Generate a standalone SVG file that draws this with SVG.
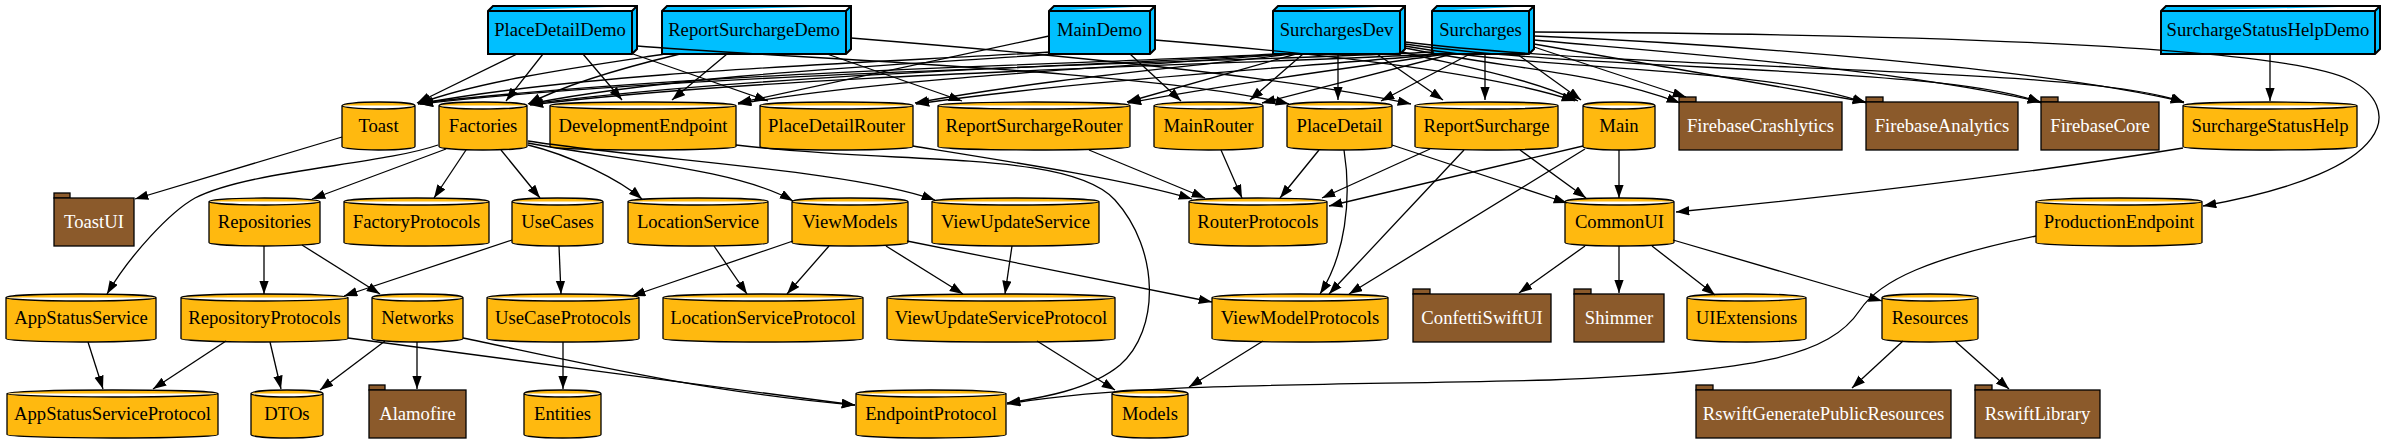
<svg xmlns="http://www.w3.org/2000/svg" width="2388" height="443" viewBox="0 0 2388 443">
<defs>
<style>
.c{fill:#FFB90F;stroke:#000;stroke-width:1.3}
.b{fill:#00BFFF;stroke:#000;stroke-width:2}
.f{fill:#8B5A2B;stroke:#000;stroke-width:1.3}
text{font-family:"Liberation Serif","Times New Roman",serif;font-size:18.67px;text-anchor:middle;fill:#000}
text.w{fill:#fff}
#edges path{fill:none;stroke:#000;stroke-width:1.3;marker-end:url(#ah)}
</style>
<marker id="ah" markerUnits="userSpaceOnUse" markerWidth="14" markerHeight="10" refX="13.3" refY="4.7" orient="auto"><path d="M0,0L13.3,4.7L0,9.4Z" fill="#000"/></marker>
</defs>
<rect width="2388" height="443" fill="#fff"/>
<g id="nodes">
<g id="PlaceDetailDemo"><path class="b" d="M488,11L493,6L637,6L637,49L632,54L488,54ZM488,11L632,11L637,6M632,11L632,54"/><text x="560" y="36">PlaceDetailDemo</text></g>
<g id="ReportSurchargeDemo"><path class="b" d="M662,11L667,6L851,6L851,49L846,54L662,54ZM662,11L846,11L851,6M846,11L846,54"/><text x="754" y="36">ReportSurchargeDemo</text></g>
<g id="MainDemo"><path class="b" d="M1049,11L1054,6L1155,6L1155,49L1150,54L1049,54ZM1049,11L1150,11L1155,6M1150,11L1150,54"/><text x="1099.5" y="36">MainDemo</text></g>
<g id="SurchargesDev"><path class="b" d="M1273,11L1278,6L1405,6L1405,49L1400,54L1273,54ZM1273,11L1400,11L1405,6M1400,11L1400,54"/><text x="1336.5" y="36">SurchargesDev</text></g>
<g id="Surcharges"><path class="b" d="M1432,11L1437,6L1534,6L1534,49L1529,54L1432,54ZM1432,11L1529,11L1534,6M1529,11L1529,54"/><text x="1480.5" y="36">Surcharges</text></g>
<g id="SurchargeStatusHelpDemo"><path class="b" d="M2161,11L2166,6L2380,6L2380,49L2375,54L2161,54ZM2161,11L2375,11L2380,6M2375,11L2375,54"/><text x="2268" y="36">SurchargeStatusHelpDemo</text></g>

<g id="Toast"><path class="c" d="M342,105.5A36.5,3.5 0 0 1 415,105.5V146.5A36.5,3.5 0 0 1 342,146.5ZM342,105.5A36.5,3.5 0 0 0 415,105.5"/><text x="378.5" y="132">Toast</text></g>
<g id="Factories"><path class="c" d="M439,105.5A44,3.5 0 0 1 527,105.5V146.5A44,3.5 0 0 1 439,146.5ZM439,105.5A44,3.5 0 0 0 527,105.5"/><text x="483" y="132">Factories</text></g>
<g id="DevelopmentEndpoint"><path class="c" d="M550,105.5A93,3.5 0 0 1 736,105.5V146.5A93,3.5 0 0 1 550,146.5ZM550,105.5A93,3.5 0 0 0 736,105.5"/><text x="643" y="132">DevelopmentEndpoint</text></g>
<g id="PlaceDetailRouter"><path class="c" d="M760,105.5A76.5,3.5 0 0 1 913,105.5V146.5A76.5,3.5 0 0 1 760,146.5ZM760,105.5A76.5,3.5 0 0 0 913,105.5"/><text x="836.5" y="132">PlaceDetailRouter</text></g>
<g id="ReportSurchargeRouter"><path class="c" d="M938,105.5A96,3.5 0 0 1 1130,105.5V146.5A96,3.5 0 0 1 938,146.5ZM938,105.5A96,3.5 0 0 0 1130,105.5"/><text x="1034" y="132">ReportSurchargeRouter</text></g>
<g id="MainRouter"><path class="c" d="M1154,105.5A54.5,3.5 0 0 1 1263,105.5V146.5A54.5,3.5 0 0 1 1154,146.5ZM1154,105.5A54.5,3.5 0 0 0 1263,105.5"/><text x="1208.5" y="132">MainRouter</text></g>
<g id="PlaceDetail"><path class="c" d="M1287,105.5A52.5,3.5 0 0 1 1392,105.5V146.5A52.5,3.5 0 0 1 1287,146.5ZM1287,105.5A52.5,3.5 0 0 0 1392,105.5"/><text x="1339.5" y="132">PlaceDetail</text></g>
<g id="ReportSurcharge"><path class="c" d="M1415,105.5A71.5,3.5 0 0 1 1558,105.5V146.5A71.5,3.5 0 0 1 1415,146.5ZM1415,105.5A71.5,3.5 0 0 0 1558,105.5"/><text x="1486.5" y="132">ReportSurcharge</text></g>
<g id="Main"><path class="c" d="M1583,105.5A36,3.5 0 0 1 1655,105.5V146.5A36,3.5 0 0 1 1583,146.5ZM1583,105.5A36,3.5 0 0 0 1655,105.5"/><text x="1619" y="132">Main</text></g>
<g id="FirebaseCrashlytics"><rect class="f" x="1679" y="97" width="17" height="5"/><rect class="f" x="1679" y="102" width="163" height="48"/><text class="w" x="1760.5" y="132">FirebaseCrashlytics</text></g>
<g id="FirebaseAnalytics"><rect class="f" x="1866" y="97" width="17" height="5"/><rect class="f" x="1866" y="102" width="152" height="48"/><text class="w" x="1942" y="132">FirebaseAnalytics</text></g>
<g id="FirebaseCore"><rect class="f" x="2041" y="97" width="17" height="5"/><rect class="f" x="2041" y="102" width="118" height="48"/><text class="w" x="2100" y="132">FirebaseCore</text></g>
<g id="SurchargeStatusHelp"><path class="c" d="M2183,105.5A87,3.5 0 0 1 2357,105.5V146.5A87,3.5 0 0 1 2183,146.5ZM2183,105.5A87,3.5 0 0 0 2357,105.5"/><text x="2270" y="132">SurchargeStatusHelp</text></g>

<g id="ToastUI"><rect class="f" x="54" y="193" width="16" height="5"/><rect class="f" x="54" y="198" width="80" height="48"/><text class="w" x="94" y="228">ToastUI</text></g>
<g id="Repositories"><path class="c" d="M209,201.5A55.5,3.5 0 0 1 320,201.5V242.5A55.5,3.5 0 0 1 209,242.5ZM209,201.5A55.5,3.5 0 0 0 320,201.5"/><text x="264.5" y="228">Repositories</text></g>
<g id="FactoryProtocols"><path class="c" d="M344,201.5A72.5,3.5 0 0 1 489,201.5V242.5A72.5,3.5 0 0 1 344,242.5ZM344,201.5A72.5,3.5 0 0 0 489,201.5"/><text x="416.5" y="228">FactoryProtocols</text></g>
<g id="UseCases"><path class="c" d="M512,201.5A45.5,3.5 0 0 1 603,201.5V242.5A45.5,3.5 0 0 1 512,242.5ZM512,201.5A45.5,3.5 0 0 0 603,201.5"/><text x="557.5" y="228">UseCases</text></g>
<g id="LocationService"><path class="c" d="M628,201.5A70,3.5 0 0 1 768,201.5V242.5A70,3.5 0 0 1 628,242.5ZM628,201.5A70,3.5 0 0 0 768,201.5"/><text x="698" y="228">LocationService</text></g>
<g id="ViewModels"><path class="c" d="M792,201.5A58,3.5 0 0 1 908,201.5V242.5A58,3.5 0 0 1 792,242.5ZM792,201.5A58,3.5 0 0 0 908,201.5"/><text x="850" y="228">ViewModels</text></g>
<g id="ViewUpdateService"><path class="c" d="M932,201.5A83.5,3.5 0 0 1 1099,201.5V242.5A83.5,3.5 0 0 1 932,242.5ZM932,201.5A83.5,3.5 0 0 0 1099,201.5"/><text x="1015.5" y="228">ViewUpdateService</text></g>
<g id="RouterProtocols"><path class="c" d="M1189,201.5A69,3.5 0 0 1 1327,201.5V242.5A69,3.5 0 0 1 1189,242.5ZM1189,201.5A69,3.5 0 0 0 1327,201.5"/><text x="1258" y="228">RouterProtocols</text></g>
<g id="CommonUI"><path class="c" d="M1565,201.5A54.5,3.5 0 0 1 1674,201.5V242.5A54.5,3.5 0 0 1 1565,242.5ZM1565,201.5A54.5,3.5 0 0 0 1674,201.5"/><text x="1619.5" y="228">CommonUI</text></g>
<g id="ProductionEndpoint"><path class="c" d="M2036,201.5A83,3.5 0 0 1 2202,201.5V242.5A83,3.5 0 0 1 2036,242.5ZM2036,201.5A83,3.5 0 0 0 2202,201.5"/><text x="2119" y="228">ProductionEndpoint</text></g>

<g id="AppStatusService"><path class="c" d="M6,297.5A75,3.5 0 0 1 156,297.5V338.5A75,3.5 0 0 1 6,338.5ZM6,297.5A75,3.5 0 0 0 156,297.5"/><text x="81" y="324">AppStatusService</text></g>
<g id="RepositoryProtocols"><path class="c" d="M181,297.5A83.5,3.5 0 0 1 348,297.5V338.5A83.5,3.5 0 0 1 181,338.5ZM181,297.5A83.5,3.5 0 0 0 348,297.5"/><text x="264.5" y="324">RepositoryProtocols</text></g>
<g id="Networks"><path class="c" d="M372,297.5A45.5,3.5 0 0 1 463,297.5V338.5A45.5,3.5 0 0 1 372,338.5ZM372,297.5A45.5,3.5 0 0 0 463,297.5"/><text x="417.5" y="324">Networks</text></g>
<g id="UseCaseProtocols"><path class="c" d="M487,297.5A76,3.5 0 0 1 639,297.5V338.5A76,3.5 0 0 1 487,338.5ZM487,297.5A76,3.5 0 0 0 639,297.5"/><text x="563" y="324">UseCaseProtocols</text></g>
<g id="LocationServiceProtocol"><path class="c" d="M663,297.5A100,3.5 0 0 1 863,297.5V338.5A100,3.5 0 0 1 663,338.5ZM663,297.5A100,3.5 0 0 0 863,297.5"/><text x="763" y="324">LocationServiceProtocol</text></g>
<g id="ViewUpdateServiceProtocol"><path class="c" d="M887,297.5A114,3.5 0 0 1 1115,297.5V338.5A114,3.5 0 0 1 887,338.5ZM887,297.5A114,3.5 0 0 0 1115,297.5"/><text x="1001" y="324">ViewUpdateServiceProtocol</text></g>
<g id="ViewModelProtocols"><path class="c" d="M1212,297.5A88,3.5 0 0 1 1388,297.5V338.5A88,3.5 0 0 1 1212,338.5ZM1212,297.5A88,3.5 0 0 0 1388,297.5"/><text x="1300" y="324">ViewModelProtocols</text></g>
<g id="ConfettiSwiftUI"><rect class="f" x="1413" y="289" width="17" height="5"/><rect class="f" x="1413" y="294" width="138" height="48"/><text class="w" x="1482" y="324">ConfettiSwiftUI</text></g>
<g id="Shimmer"><rect class="f" x="1574" y="289" width="17" height="5"/><rect class="f" x="1574" y="294" width="90" height="48"/><text class="w" x="1619" y="324">Shimmer</text></g>
<g id="UIExtensions"><path class="c" d="M1687,297.5A59.5,3.5 0 0 1 1806,297.5V338.5A59.5,3.5 0 0 1 1687,338.5ZM1687,297.5A59.5,3.5 0 0 0 1806,297.5"/><text x="1746.5" y="324">UIExtensions</text></g>
<g id="Resources"><path class="c" d="M1882,297.5A48,3.5 0 0 1 1978,297.5V338.5A48,3.5 0 0 1 1882,338.5ZM1882,297.5A48,3.5 0 0 0 1978,297.5"/><text x="1930" y="324">Resources</text></g>

<g id="AppStatusServiceProtocol"><path class="c" d="M7,393.5A105.5,3.5 0 0 1 218,393.5V434.5A105.5,3.5 0 0 1 7,434.5ZM7,393.5A105.5,3.5 0 0 0 218,393.5"/><text x="112.5" y="420">AppStatusServiceProtocol</text></g>
<g id="DTOs"><path class="c" d="M251,393.5A36,3.5 0 0 1 323,393.5V434.5A36,3.5 0 0 1 251,434.5ZM251,393.5A36,3.5 0 0 0 323,393.5"/><text x="287" y="420">DTOs</text></g>
<g id="Alamofire"><rect class="f" x="369" y="385" width="16" height="5"/><rect class="f" x="369" y="390" width="97" height="48"/><text class="w" x="417.5" y="420">Alamofire</text></g>
<g id="Entities"><path class="c" d="M524,393.5A38.5,3.5 0 0 1 601,393.5V434.5A38.5,3.5 0 0 1 524,434.5ZM524,393.5A38.5,3.5 0 0 0 601,393.5"/><text x="562.5" y="420">Entities</text></g>
<g id="EndpointProtocol"><path class="c" d="M856,393.5A75,3.5 0 0 1 1006,393.5V434.5A75,3.5 0 0 1 856,434.5ZM856,393.5A75,3.5 0 0 0 1006,393.5"/><text x="931" y="420">EndpointProtocol</text></g>
<g id="Models"><path class="c" d="M1112,393.5A38,3.5 0 0 1 1188,393.5V434.5A38,3.5 0 0 1 1112,434.5ZM1112,393.5A38,3.5 0 0 0 1188,393.5"/><text x="1150" y="420">Models</text></g>
<g id="RswiftGeneratePublicResources"><rect class="f" x="1696" y="385" width="17" height="5"/><rect class="f" x="1696" y="390" width="255" height="48"/><text class="w" x="1823.5" y="420">RswiftGeneratePublicResources</text></g>
<g id="RswiftLibrary"><rect class="f" x="1975" y="385" width="17" height="5"/><rect class="f" x="1975" y="390" width="125" height="48"/><text class="w" x="2037.5" y="420">RswiftLibrary</text></g>
</g>

<g id="edges">
<path d="M517,54L417,103"/>
<path d="M543,54L506,101"/>
<path d="M583,54L622,100"/>
<path d="M633,54L768,101"/>
<path d="M637,46C780,58 1150,70 1289,104"/>
<path d="M665,54C600,64 480,80 418,104"/>
<path d="M680,54C630,66 570,82 528,104"/>
<path d="M727,54L672,100"/>
<path d="M827,54L962,101"/>
<path d="M851,38C1000,50 1280,75 1411,104"/>
<path d="M1050,52C900,62 600,70 418,104"/>
<path d="M1055,54C920,64 680,74 529,104"/>
<path d="M1049,36L738,103"/>
<path d="M1130,54L1181,101"/>
<path d="M1155,40C1300,52 1480,70 1575,101"/>
<path d="M1275,54C1104,64 719,70 419,103"/>
<path d="M1280,54C1130,65 780,72 529,104"/>
<path d="M1285,54C1150,66 900,76 738,104"/>
<path d="M1290,54C1200,66 1050,78 915,103"/>
<path d="M1296,54L1127,102"/>
<path d="M1303,54L1250,100"/>
<path d="M1338,54L1338,100"/>
<path d="M1377,54L1443,100"/>
<path d="M1402,52C1460,66 1530,78 1578,101"/>
<path d="M1405,48C1500,68 1600,72 1680,103"/>
<path d="M1405,46C1550,72 1760,66 1866,103"/>
<path d="M1405,44C1600,72 1950,66 2041,103"/>
<path d="M1405,42C1650,72 2100,66 2184,103"/>
<path d="M1434,52C1230,62 700,72 420,104"/>
<path d="M1437,54C1250,64 780,74 530,105"/>
<path d="M1441,54C1320,66 1100,78 916,104"/>
<path d="M1446,54C1380,64 1250,80 1128,103"/>
<path d="M1452,54L1262,103"/>
<path d="M1470,54L1381,101"/>
<path d="M1485,54L1485,100"/>
<path d="M1517,54L1581,100"/>
<path d="M1534,47L1686,97"/>
<path d="M1534,44L1866,102"/>
<path d="M1534,40C1700,55 1900,70 2041,102"/>
<path d="M1534,36C1750,45 2050,70 2184,102"/>
<path d="M1534,32C1900,34 2280,45 2350,80C2400,105 2405,170 2203,206"/>
<path d="M2270,54L2270,101"/>
<path d="M342,137L135,199"/>
<path d="M438,145C380,165 250,170 195,198C170,212 130,255 107,294"/>
<path d="M446,149L312,199"/>
<path d="M466,150L434,198"/>
<path d="M501,150L540,198"/>
<path d="M528,145C570,155 620,180 642,199"/>
<path d="M528,143C620,160 740,170 793,201"/>
<path d="M528,141C650,160 850,170 935,200"/>
<path d="M736,145C900,165 1070,150 1115,200C1160,250 1160,330 1120,365C1090,390 1040,398 1007,403"/>
<path d="M913,146C1000,160 1130,180 1192,199"/>
<path d="M1089,150L1205,198"/>
<path d="M1221,150L1242,198"/>
<path d="M1319,150L1280,198"/>
<path d="M1344,150C1352,200 1345,255 1320,294"/>
<path d="M1392,145L1567,203"/>
<path d="M1430,149L1322,198"/>
<path d="M1464,150L1329,294"/>
<path d="M1520,150L1586,198"/>
<path d="M1583,146L1329,206"/>
<path d="M1585,149L1349,294"/>
<path d="M1619,150L1619,198"/>
<path d="M2183,148C2000,178 1800,200 1676,212"/>
<path d="M264,246L264,294"/>
<path d="M302,245L380,294"/>
<path d="M512,240L344,296"/>
<path d="M559,246L561,294"/>
<path d="M714,246L747,294"/>
<path d="M793,241L632,296"/>
<path d="M829,246L787,294"/>
<path d="M886,246L963,294"/>
<path d="M907,241L1212,302"/>
<path d="M1012,246L1005,294"/>
<path d="M1585,246L1519,293"/>
<path d="M1619,246L1619,293"/>
<path d="M1652,246L1715,295"/>
<path d="M1673,240L1882,301"/>
<path d="M2036,236C1930,258 1880,280 1860,310C1830,355 1760,372 1550,380C1300,386 1130,383 1007,404"/>
<path d="M88,342L103,389"/>
<path d="M226,341L153,389"/>
<path d="M270,342L281,389"/>
<path d="M348,338C500,358 700,385 855,405"/>
<path d="M385,341L320,390"/>
<path d="M417,342L417,389"/>
<path d="M463,338C560,358 700,392 855,405"/>
<path d="M563,342L563,389"/>
<path d="M1037,341L1115,390"/>
<path d="M1263,341L1189,387"/>
<path d="M1903,341L1852,388"/>
<path d="M1955,341L2009,389"/>
</g>
</svg>
